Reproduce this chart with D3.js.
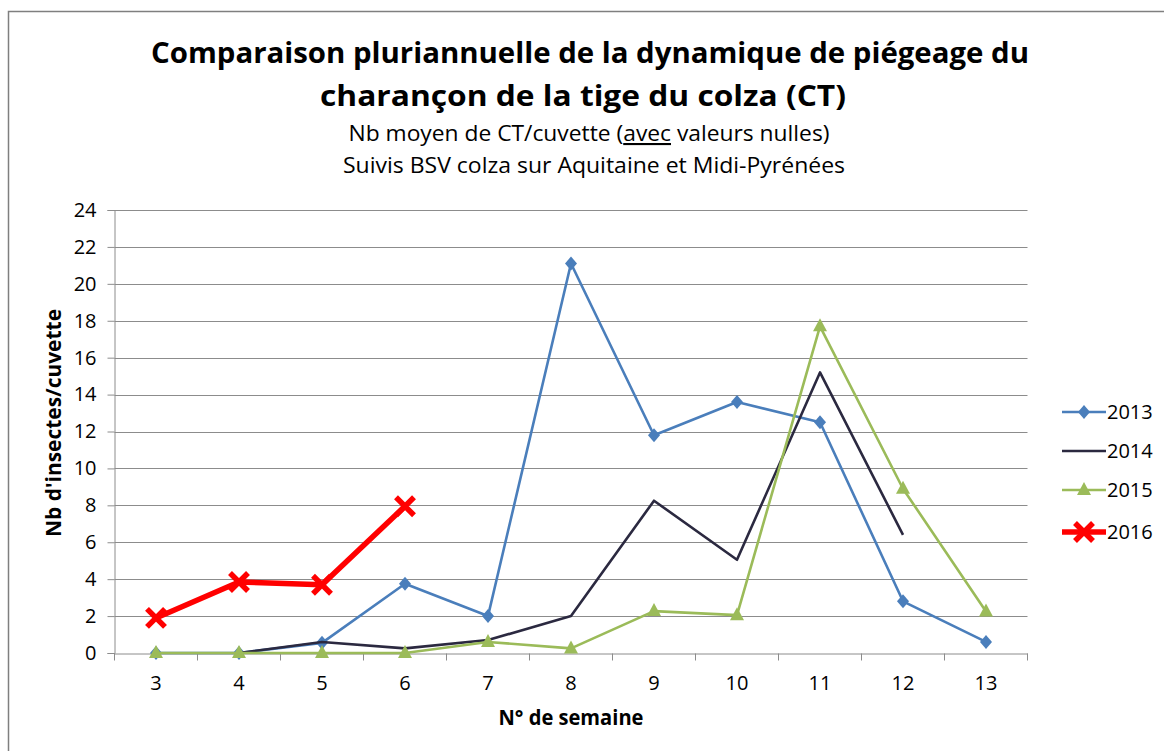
<!DOCTYPE html>
<html lang="fr">
<head>
<meta charset="utf-8">
<title>Charançon de la tige du colza</title>
<style>
  body { margin: 0; background: #fff; }
  svg { display: block; }
  text { font-family: "Open Sans", "DejaVu Sans", sans-serif; fill: #000; }
</style>
<script src="https://d3js.org/d3.v7.min.js"></script>
</head>
<body>
<svg id="chart" width="1164" height="751"></svg>
<script>
// data
var weeks = [3, 4, 5, 6, 7, 8, 9, 10, 11, 12, 13];
var yTicks = [0, 2, 4, 6, 8, 10, 12, 14, 16, 18, 20, 22, 24];
var v2013 = [0, 0, 0.55, 3.75, 2.0, 21.1, 11.8, 13.6, 12.5, 2.8, 0.6];
var v2014 = [null, 0, 0.6, 0.25, 0.7, 2.0, 8.25, 5.05, 15.2, 6.4, null];
var v2015 = [0, 0, 0, 0, 0.6, 0.25, 2.27, 2.05, 17.7, 8.9, 2.25];
var v2016 = [1.9, 3.85, 3.7, 7.95, null, null, null, null, null, null, null];

var series = [
  { name: "2013", values: v2013, color: "#4A7EBB", width: 2.6, marker: "diamond" },
  { name: "2014", values: v2014, color: "#2B2940", width: 2.6, marker: "none" },
  { name: "2015", values: v2015, color: "#9BBB59", width: 2.6, marker: "triangle" },
  { name: "2016", values: v2016, color: "#FF0000", width: 5.5, marker: "cross" }
];

var svg = d3.select("#chart");

// outer frame
svg.append("rect")
  .attr("x", 8.5).attr("y", 11.5)
  .attr("width", 1170).attr("height", 760)
  .attr("fill", "none").attr("stroke", "#7f7f7f").attr("stroke-width", 1.5);

// titles
svg.append("text").attr("x", 590).attr("y", 63).attr("text-anchor", "middle")
  .style("font-size", "29px").style("font-weight", "bold")
  .attr("textLength", 878).attr("lengthAdjust", "spacingAndGlyphs")
  .text("Comparaison pluriannuelle de la dynamique de piégeage du");
svg.append("text").attr("x", 583).attr("y", 106).attr("text-anchor", "middle")
  .style("font-size", "29px").style("font-weight", "bold")
  .attr("textLength", 526).attr("lengthAdjust", "spacingAndGlyphs")
  .text("charançon de la tige du colza (CT)");

var sub1 = svg.append("text").attr("x", 589).attr("y", 141).attr("text-anchor", "middle")
  .style("font-size", "21px")
  .attr("textLength", 481).attr("lengthAdjust", "spacingAndGlyphs");
sub1.append("tspan").text("Nb moyen de CT/cuvette (");
sub1.append("tspan").style("text-decoration", "underline").text("avec");
sub1.append("tspan").text(" valeurs nulles)");

svg.append("text").attr("x", 594).attr("y", 173).attr("text-anchor", "middle")
  .style("font-size", "21px")
  .attr("textLength", 502).attr("lengthAdjust", "spacingAndGlyphs")
  .text("Suivis BSV colza sur Aquitaine et Midi-Pyrénées");

// scales
var x = d3.scaleBand().domain(weeks).range([114.5, 1027.5]);
var y = d3.scaleLinear().domain([0, 24]).range([653, 210]);
var cx = function (w) { return x(w) + x.bandwidth() / 2; };

// gridlines
svg.append("g").selectAll("line").data(yTicks.slice(1)).join("line")
  .attr("x1", 114.5).attr("x2", 1027.5)
  .attr("y1", function (d) { return Math.round(y(d)) + 0.5; })
  .attr("y2", function (d) { return Math.round(y(d)) + 0.5; })
  .attr("stroke", "#8c8c8c").attr("stroke-width", 1);

// y axis
var yAxis = svg.append("g").attr("transform", "translate(114.5,0)")
  .call(d3.axisLeft(y).tickValues(yTicks).tickSize(7).tickPadding(11));
yAxis.select(".domain").attr("stroke", "#8c8c8c");
yAxis.selectAll(".tick line").attr("stroke", "#8c8c8c");
yAxis.selectAll(".tick text").attr("font-size", 20).attr("fill", "#000")
  .attr("font-family", "'Open Sans', sans-serif");

// x axis
var xAxis = svg.append("g").attr("transform", "translate(0,653.5)")
  .call(d3.axisBottom(x).tickSize(0));
xAxis.select(".domain").attr("stroke", "#8c8c8c");
xAxis.selectAll(".tick text").attr("font-size", 20).attr("fill", "#000")
  .attr("y", 36).attr("dy", 0)
  .attr("font-family", "'Open Sans', sans-serif");
// tick marks between categories
var bounds = weeks.map(function (w) { return x(w); }).concat([x.range()[1]]);
xAxis.selectAll(".bound").data(bounds).join("line").attr("class", "bound")
  .attr("x1", function (d) { return d; }).attr("x2", function (d) { return d; })
  .attr("y1", 0).attr("y2", 7).attr("stroke", "#8c8c8c");

// axis titles
svg.append("text").attr("transform", "translate(61,423) rotate(-90)")
  .attr("text-anchor", "middle").style("font-size", "21px").style("font-weight", "bold")
  .attr("textLength", 228).attr("lengthAdjust", "spacingAndGlyphs")
  .text("Nb d'insectes/cuvette");
svg.append("text").attr("x", 571).attr("y", 725).attr("text-anchor", "middle")
  .style("font-size", "21px").style("font-weight", "bold")
  .attr("textLength", 145).attr("lengthAdjust", "spacingAndGlyphs")
  .text("N° de semaine");

// lines
var line = d3.line()
  .defined(function (d) { return d.v !== null; })
  .x(function (d) { return cx(d.w); })
  .y(function (d) { return y(d.v); });

function pts(s) {
  return weeks.map(function (w, i) { return { w: w, v: s.values[i] }; })
    .filter(function (d) { return d.v !== null; });
}

function drawMarker(g, type, color, px, py) {
  if (type === "diamond") {
    g.append("path").attr("transform", "translate(" + px + "," + py + ")")
      .attr("d", "M0,-7L6,0L0,7L-6,0Z").attr("fill", color);
  } else if (type === "triangle") {
    g.append("path").attr("transform", "translate(" + px + "," + py + ")")
      .attr("d", "M0,-8L7,5L-7,5Z").attr("fill", color);
  } else if (type === "cross") {
    g.append("path").attr("transform", "translate(" + px + "," + py + ")")
      .attr("d", "M-9,-9L9,9M9,-9L-9,9").attr("stroke", color)
      .attr("stroke-width", 5.5).attr("fill", "none");
  }
}

var plot = svg.append("g");
series.forEach(function (s) {
  var data = weeks.map(function (w, i) { return { w: w, v: s.values[i] }; });
  plot.append("path").datum(data)
    .attr("d", line).attr("fill", "none")
    .attr("stroke", s.color).attr("stroke-width", s.width)
    .attr("stroke-linejoin", "round");
  pts(s).forEach(function (d) {
    drawMarker(plot, s.marker, s.color, cx(d.w), y(d.v));
  });
});

// legend
var legY = [412, 451, 490, 532];
var leg = svg.append("g");
series.forEach(function (s, i) {
  var g = leg.append("g");
  g.append("line").attr("x1", 1062).attr("x2", 1106)
    .attr("y1", legY[i]).attr("y2", legY[i])
    .attr("stroke", s.color).attr("stroke-width", s.width);
  drawMarker(g, s.marker, s.color, 1084, legY[i]);
  g.append("text").attr("x", 1107).attr("y", legY[i] + 7)
    .style("font-size", "20px").text(s.name);
});
</script>
</body>
</html>
